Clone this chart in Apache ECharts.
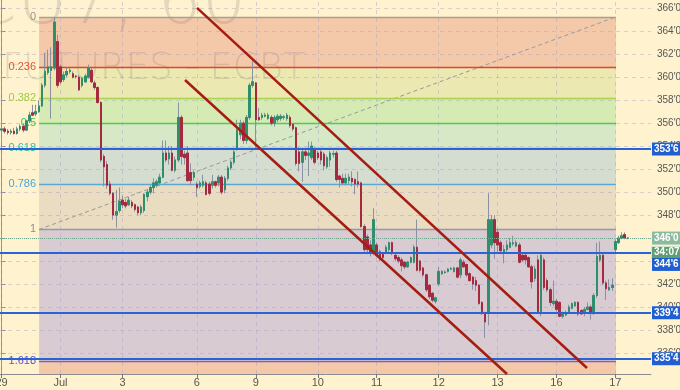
<!DOCTYPE html>
<html><head><meta charset="utf-8">
<script src="https://cdn.jsdelivr.net/npm/echarts@6/dist/echarts.min.js"></script>
<style>html,body{margin:0;padding:0;background:#fff3cf}#c{width:680px;height:390px}</style>
</head><body><div id="c"></div>
<script>
// ---- data ----
const opens = [355.4,355.5,355.3,355.2,355.3,355.1,355.5,355.7,355.4,356.2,356.9,356.8,357.0,357.5,359.3,360.4,360.6,360.8,363.1,360.9,
359.8,360.2,360.5,360.3,360.1,360.0,359.3,359.6,360.0,360.6,359.5,359.1,357.8,353.1,352.4,350.7,349.9,348.0,348.4,349.3,
349.1,348.9,349.1,348.9,348.7,348.2,348.4,349.6,350.0,350.4,350.6,350.8,351.3,353.4,352.9,353.4,351.9,352.8,356.5,353.3,
353.4,351.7,351.3,350.7,350.5,350.6,350.8,350.7,350.6,350.9,350.8,351.3,350.2,351.2,352.1,352.6,353.8,355.0,356.0,354.5,
356.5,359.3,359.5,356.5,356.5,356.6,356.4,356.5,356.0,356.3,356.4,356.5,356.4,356.5,355.9,355.6,353.5,352.6,353.5,353.2,
353.0,353.7,353.4,353.5,353.3,352.2,352.8,353.3,353.4,351.4,351.2,350.8,351.0,351.2,351.1,350.9,350.8,347.0,346.1,345.4,
344.8,345.4,344.8,344.6,344.8,345.0,345.6,344.5,344.3,344.1,343.9,343.5,343.9,343.9,345.2,344.0,343.4,342.8,341.9,341.2,
340.5,342.0,342.9,343.0,343.1,343.3,343.1,343.4,342.8,343.9,343.7,342.9,342.6,342.3,341.9,340.4,339.5,339.5,345.4,347.6,
346.5,345.6,344.7,345.0,345.2,345.5,345.3,345.4,344.5,344.5,344.3,343.5,342.5,344.1,339.6,344.1,342.3,341.5,340.3,340.5,
340.4,339.2,339.3,339.6,339.9,340.1,340.4,339.7,339.5,339.8,340.0,339.5,341.0,344.1,344.5,342.1,341.5,341.7,345.0,345.6,
346.0,346.3,346.0];
const highs = [357.0,355.7,355.5,355.5,355.6,355.7,355.9,356.0,356.3,357.0,357.6,357.6,358.0,359.5,362.1,362.4,362.6,365.2,363.7,361.1,
360.5,360.8,360.8,360.5,360.2,360.2,360.0,360.3,361.1,360.8,359.7,359.2,357.9,353.3,352.7,351.0,350.0,350.2,350.4,349.7,
349.4,349.6,349.3,349.0,348.8,348.9,349.9,350.2,350.6,351.2,351.1,351.6,354.5,354.5,354.0,354.0,353.1,357.8,356.7,353.6,
354.0,352.5,351.9,350.9,351.0,351.5,351.0,350.9,351.5,351.0,351.5,351.5,351.4,352.3,352.8,353.7,356.3,356.3,356.2,356.7,
359.5,361.4,359.6,357.3,356.9,356.9,356.9,356.7,356.7,356.8,356.8,356.7,356.9,356.7,356.0,355.7,353.9,353.8,353.7,354.4,
354.4,353.9,353.6,353.8,353.5,353.2,353.6,353.6,353.6,351.5,351.6,351.6,351.6,351.8,351.2,351.8,350.9,347.2,346.3,345.8,
348.6,345.6,345.0,344.8,345.4,345.7,345.7,344.7,344.5,344.3,344.0,344.0,344.4,345.4,347.6,344.1,343.5,342.9,342.0,341.3,
340.9,343.5,343.2,343.2,343.4,343.5,343.5,343.5,344.3,344.1,343.8,343.0,342.7,342.6,342.0,340.5,339.6,349.9,348.0,348.0,
346.8,345.8,345.4,345.8,346.0,346.2,345.8,345.6,344.7,344.7,344.4,343.7,343.6,344.5,344.6,344.3,342.5,341.7,342.3,340.7,
340.5,339.6,339.7,340.2,340.4,340.5,340.5,339.8,340.0,340.4,340.2,341.2,345.6,345.7,344.7,342.3,342.4,342.5,345.9,346.2,
346.5,346.5,346.1];
const lows = [355.2,355.1,355.0,355.0,355.0,355.0,355.3,355.2,355.3,356.0,356.6,356.6,356.9,357.4,359.1,360.2,356.4,360.6,359.1,359.4,
359.6,360.0,360.3,359.9,359.9,358.8,359.1,359.5,359.9,359.5,358.9,357.7,352.6,350.5,350.3,349.7,347.6,346.9,348.2,348.6,
348.6,348.8,348.6,348.3,348.0,348.0,348.2,349.2,349.8,349.9,350.4,350.6,351.2,352.6,352.4,351.8,351.7,352.6,352.4,352.4,
350.9,350.6,351.0,349.6,350.3,350.4,349.7,349.7,350.3,350.4,350.5,349.8,349.9,351.0,351.9,352.4,353.6,354.6,354.2,354.2,
356.3,359.1,353.7,356.2,356.3,356.5,356.3,355.8,355.7,356.1,356.2,356.3,356.2,355.6,355.3,352.3,351.8,350.9,352.8,351.4,
352.8,352.4,352.8,352.4,351.9,352.0,352.2,353.0,350.9,350.4,350.6,350.6,350.7,350.5,349.8,350.4,346.9,344.8,344.6,344.4,
344.5,344.3,344.0,344.1,344.6,344.7,344.5,344.0,343.8,343.1,343.3,343.4,343.8,343.8,343.1,343.0,342.6,341.3,340.7,340.4,
340.3,341.8,342.8,342.9,343.0,343.2,343.0,342.5,342.5,343.4,342.6,342.2,341.5,341.4,340.2,339.3,337.3,338.4,345.1,344.2,
344.8,344.6,343.8,344.8,345.1,345.3,345.2,343.8,343.9,343.7,343.4,341.6,342.2,339.5,339.2,341.5,341.3,340.1,340.1,339.6,
339.1,339.0,339.2,339.5,339.8,340.0,339.2,339.3,339.2,339.7,338.9,339.3,340.8,343.9,341.9,340.6,341.4,341.4,344.6,345.5,
345.9,345.9,345.9];
const closes = [355.5,355.3,355.2,355.3,355.1,355.5,355.7,355.4,356.2,356.7,356.7,357.0,357.5,359.3,360.5,360.9,360.9,364.8,359.3,359.6,
360.2,360.5,360.6,360.0,360.05,358.9,359.9,360.1,360.8,359.6,359.1,357.8,352.8,352.2,350.6,349.9,348.0,348.3,349.2,348.9,
348.8,349.3,348.8,348.5,348.2,348.7,349.8,350.0,350.4,350.8,350.9,351.3,353.4,352.8,353.4,351.9,352.8,356.5,353.1,353.0,
351.0,351.0,351.7,350.4,350.8,350.9,349.8,349.9,350.9,350.6,351.3,350.0,351.2,352.1,352.6,353.5,355.4,356.0,354.5,356.5,
359.3,359.6,356.3,356.3,356.7,356.7,356.7,356.0,356.5,356.6,356.6,356.55,356.7,355.8,355.5,352.5,352.5,353.5,353.2,353.4,
354.0,352.6,353.0,352.8,352.3,353.0,353.4,353.35,351.1,351.1,350.8,351.2,351.3,350.9,350.7,350.7,347.0,345.0,345.0,344.8,
347.6,344.5,344.2,344.3,345.2,345.6,344.7,344.2,344.0,343.6,343.5,343.9,344.3,345.2,343.2,343.2,342.8,341.5,340.9,340.6,
340.8,343.1,343.1,343.05,343.3,343.35,343.4,342.6,344.1,343.5,342.8,342.3,342.0,341.9,340.3,339.6,338.7,347.6,347.6,345.6,
345.4,344.9,345.0,345.4,345.6,345.6,345.6,343.9,344.1,344.1,343.5,342.2,343.3,339.6,344.5,341.7,341.5,340.4,340.5,339.8,
339.2,339.4,339.5,340.0,340.3,340.4,339.4,339.4,339.8,340.0,339.5,341.0,344.4,344.5,342.1,341.6,341.7,341.9,345.7,346.0,
346.2,346.0,346.0];

const slots = 210;                       // hourly slots on the time axis
const dayIdx  = [0, 19, 39, 63, 82, 102, 121, 141, 160, 179, 198];
const dayText = ['29', 'Jul', '3', '6', '9', '10', '11', '12', '13', '16', '17'];
const priceTicks = [336,338,340,342,344,346,348,350,352,354,356,358,360,362,364,366];
const yMin = 334.17, yMax = 366.72;

const fibRatios = [0, 0.236, 0.382, 0.5, 0.618, 0.786, 1, 1.618];
const fibNames  = ['0', '0.236', '0.382', '0.5', '0.618', '0.786', '1', '1.618'];
const fibHigh = 365.25, fibLow = 346.75;
const fibFrom = 12.1, fibTo = 198.2;      // slot positions of the fib tool

const channelUpper = [[63.05, 366.03], [188.85, 334.69]];
const channelLower = [[59.18, 359.76], [163.05, 334.17]];
const blueLevels = [353.75, 344.75, 339.5, 335.5];
const lastPrice = 346.0;
const countdown = '34:07';

// ---- styles ----
const FONT = 'Liberation Sans, Arial, sans-serif';
const fibLineColors = ['#aa9e92','#e0442e','#a8d24c','#48d048','#28c0a0','#5aa6d6','#9a96a4','#7060d8'];
const fibTextColors = ['#9a948e','#e2503c','#9ccc3c','#3cc83c','#2ec4a0','#4aa4dc','#8c8c96','#5a50d6'];
const bandColors = ['#f4c9a9','#ece8b1','#d6ebb4','#d6e8c6','#d4ddd0','#e9dcc1','#d8ccd2','#f4c9a9'];

function fmt(v){ const w = Math.floor(v + 1e-9); return w + "'" + Math.round((v - w) * 8); }
const fibPrice = r => fibHigh - r * (fibHigh - fibLow);

const cats = Array.from({length: slots}, (_, i) => i);
const full = opens.map((o, i) => [o, closes[i], lows[i], highs[i]]);
const bodies = opens.map((o, i) => [o, closes[i], Math.min(o, closes[i]), Math.max(o, closes[i])]);

const bands = [];
for (let k = 0; k < fibRatios.length; k++) {
  const top = fibPrice(fibRatios[k]);
  const bot = k + 1 < fibRatios.length ? fibPrice(fibRatios[k + 1]) : yMin;
  bands.push([{coord: [fibFrom, top], itemStyle: {color: bandColors[k]}}, {coord: [fibTo, bot]}]);
}

const pxPerUnit = 374 / (yMax - yMin);
const boxLabel = (text, bg, extra) => Object.assign({
  show: true, position: 'end', distance: 1, formatter: text, color: '#fff', backgroundColor: bg,
  padding: [2, 2, 1, 2], fontSize: 10, fontWeight: 'bold', fontFamily: FONT
}, extra || {});
const hidden = {color: 'rgba(0,0,0,0)', width: 1, opacity: 1};

const chart = echarts.init(document.getElementById('c'), null, {renderer: 'canvas'});
chart.setOption({
  animation: false,
  backgroundColor: '#fff3cf',
  grid: {left: 0, right: 29, top: 0, bottom: 16, containLabel: false, outerBoundsMode: 'none'},
  xAxis: [{
    type: 'category', data: cats, boundaryGap: true,
    axisLine: {lineStyle: {color: '#8c8c8c', width: 1}},
    axisTick: {show: true, alignWithLabel: true, interval: (i) => dayIdx.includes(i), length: 4, lineStyle: {color: '#777'}},
    axisLabel: {interval: (i) => dayIdx.includes(i), formatter: (v) => dayText[dayIdx.indexOf(+v)], color: '#555', fontSize: 11, margin: 3, fontFamily: FONT},
    splitLine: {show: false}
  }, {
    type: 'value', min: -0.5, max: slots - 0.5, show: false
  }],
  yAxis: {
    type: 'value', position: 'right', min: yMin, max: yMax, scale: true,
    axisLine: {show: true, lineStyle: {color: '#8c8c8c'}},
    axisTick: {show: true, customValues: priceTicks, length: 4, lineStyle: {color: '#888'}},
    axisLabel: {customValues: priceTicks, formatter: fmt, color: '#555', fontSize: 10, margin: 6, fontFamily: FONT},
    splitLine: {show: false}
  },
  graphic: [
    {type: 'text', x: -32, y: -30, z: 2, silent: true, style: {text: 'CU7, 60', font: '200 70px "DejaVu Sans", sans-serif', fill: 'rgba(120,110,105,0.2)'}},
    {type: 'text', x: 2, y: 51, z: 2, silent: true, style: {text: 'FUTURES - ECBT', font: '200 37px "DejaVu Sans", sans-serif', fill: 'rgba(120,110,105,0.2)'}}
  ],
  series: [
    { // fib bands
      type: 'line', xAxisIndex: 1, data: [], z: 0, silent: true,
      markArea: {silent: true, data: bands}
    },
    { // dashed grid
      type: 'lines', coordinateSystem: 'cartesian2d', xAxisIndex: 1, z: 1, silent: true,
      lineStyle: {color: 'rgba(170,160,205,0.45)', width: 1, type: [4, 4], opacity: 1},
      data: priceTicks.map(v => ({coords: [[-0.5, v], [slots - 0.5, v]]}))
        .concat(dayIdx.map(i => ({coords: [[i, yMin], [i, yMax]]})))
    },
    { // fib trend dashed line
      type: 'line', xAxisIndex: 1, z: 1, silent: true, showSymbol: false,
      lineStyle: {color: '#999', width: 1, type: [4, 3]},
      data: [[fibFrom, fibLow], [fibTo, fibHigh]]
    },
    { // fib level lines + labels
      type: 'lines', coordinateSystem: 'cartesian2d', xAxisIndex: 1, z: 2, silent: true, clip: false,
      data: fibRatios.map((r, k) => ({
        coords: [[fibFrom, fibPrice(r)], [fibTo, fibPrice(r)]],
        lineStyle: {color: fibLineColors[k], width: 1.4, type: 'solid', opacity: 1},
        label: {show: true, position: 'start', distance: 3, formatter: fibNames[k], color: fibTextColors[k], fontSize: 11, fontFamily: FONT}
      }))
    },
    { // wicks
      type: 'candlestick', xAxisIndex: 0, z: 3, data: full, barWidth: 2, silent: true,
      itemStyle: {color: '#8b90a2', color0: '#8b90a2', borderColor: '#8b90a2', borderColor0: '#8b90a2', borderWidth: 1}
    },
    { // bodies
      type: 'candlestick', xAxisIndex: 0, z: 3, data: bodies, barWidth: 2, silent: true,
      itemStyle: {color: '#2f8f6c', color0: '#a52a3e', borderColor: '#2f8f6c', borderColor0: '#a52a3e', borderWidth: 1}
    },
    { // horizontal levels and price boxes
      type: 'lines', coordinateSystem: 'cartesian2d', xAxisIndex: 1, z: 5, silent: true, clip: false,
      data: blueLevels.map(v => ({
        coords: [[-0.5, v], [slots - 0.5, v]],
        lineStyle: {color: '#2a62d8', width: 2, type: 'solid', opacity: 1},
        label: boxLabel(fmt(v), '#1f5fd0', {show: v !== 344.75})
      })).concat([
        {coords: [[-0.5, lastPrice], [slots - 0.5, lastPrice]],
         lineStyle: {color: '#79a892', width: 1, type: 'dotted', opacity: 1},
         label: boxLabel(fmt(lastPrice), '#8dbb9d')},
        {coords: [[-0.5, 344.75], [slots - 0.5, 344.75]],
         lineStyle: hidden,
         label: boxLabel(countdown, '#5f9f70', {borderColor: '#d5ead8', borderWidth: 1, padding: [1, 2, 0, 2]})},
        {coords: [[-0.5, 344.75 - 12 / pxPerUnit], [slots - 0.5, 344.75 - 12 / pxPerUnit]],
         lineStyle: hidden,
         label: boxLabel(fmt(344.75), '#1f5fd0')}
      ])
    },
    { // trend channel
      type: 'lines', coordinateSystem: 'cartesian2d', xAxisIndex: 1, z: 6, silent: true,
      lineStyle: {color: '#a51d12', width: 2.5, type: 'solid', opacity: 1},
      data: [{coords: channelUpper}, {coords: channelLower}]
    }
  ]
});
</script></body></html>
